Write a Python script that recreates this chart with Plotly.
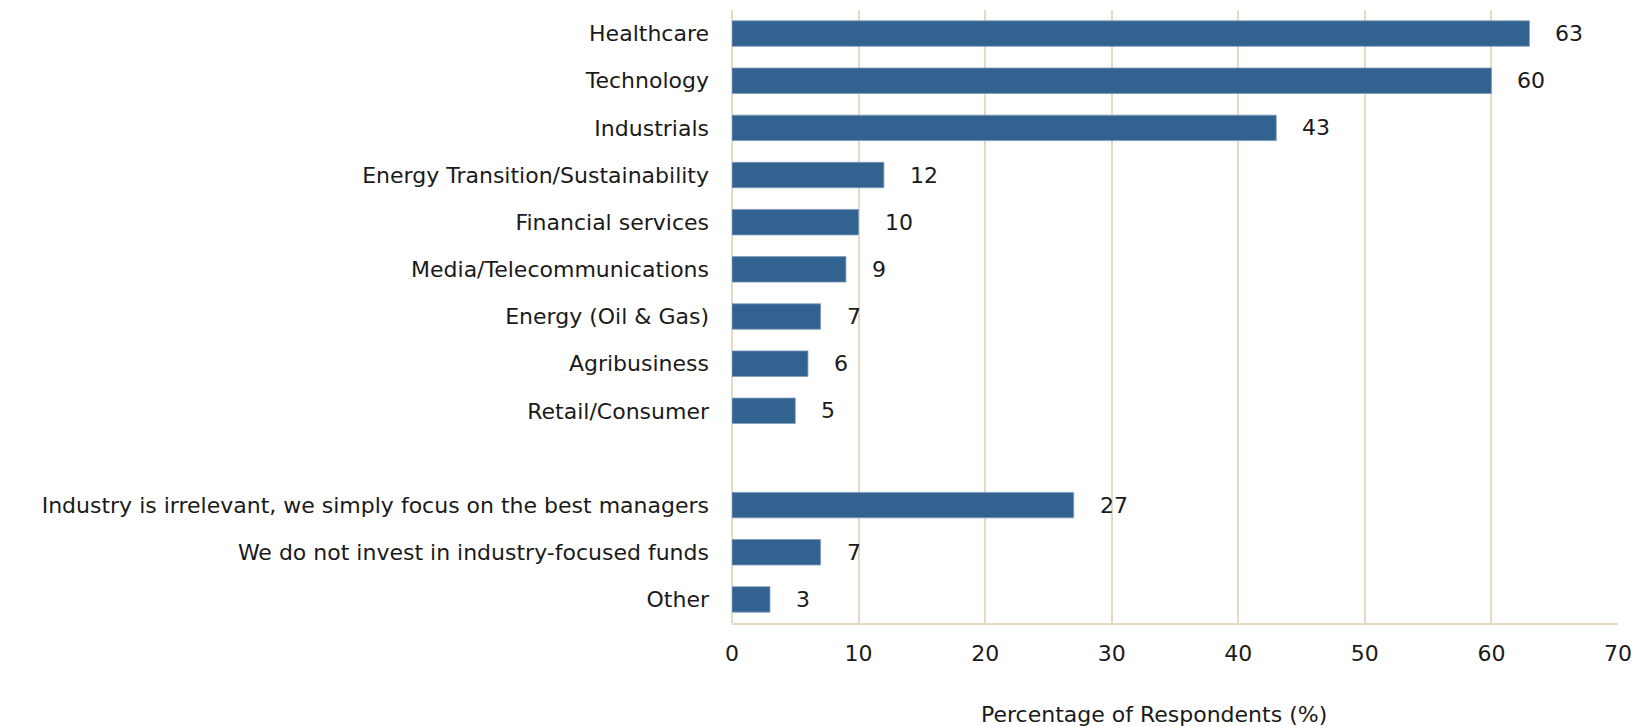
import plotly.graph_objects as go

# Survey responses: industries targeted (share of respondents, %)
categories = [
    "Healthcare",
    "Technology",
    "Industrials",
    "Energy Transition/Sustainability",
    "Financial services",
    "Media/Telecommunications",
    "Energy (Oil & Gas)",
    "Agribusiness",
    "Retail/Consumer",
    " ",
    "Industry is irrelevant, we simply focus on the best managers",
    "We do not invest in industry-focused funds",
    "Other",
]
values = [63, 60, 43, 12, 10, 9, 7, 6, 5, None, 27, 7, 3]
x_ticks = [0, 10, 20, 30, 40, 50, 60, 70]

BAR = "#32628F"
GRID = "#E6DAC6"
TEXT = "#1A1A1A"
FONT = "DejaVu Sans, Verdana, sans-serif"
FS = 22

fig = go.Figure(
    go.Bar(
        x=values,
        y=categories,
        orientation="h",
        marker=dict(color=BAR, line=dict(color="#7F9CBB", width=0.8)),
        width=0.54,
        hoverinfo="skip",
    )
)

# value labels to the right of each bar
for cat, v in zip(categories, values):
    if v is None:
        continue
    fig.add_annotation(
        x=v, y=cat, text=str(v), showarrow=False,
        xanchor="left", yanchor="middle", xshift=24,
        font=dict(size=FS, color=TEXT, family=FONT),
    )

fig.add_annotation(
    x=0.476, y=-0.149, xref="paper", yref="paper",
    text="Percentage of Respondents (%)", showarrow=False,
    xanchor="center", yanchor="middle",
    font=dict(size=FS, color=TEXT, family=FONT),
)

fig.update_layout(
    width=1649, height=726,
    margin=dict(l=732, r=31, t=10, b=103),
    paper_bgcolor="white", plot_bgcolor="white",
    showlegend=False,
    font=dict(family=FONT, size=FS, color=TEXT),
    xaxis=dict(
        range=[0, 70], tickvals=x_ticks,
        showgrid=True, gridcolor=GRID, gridwidth=2,
        zeroline=True, zerolinecolor=GRID, zerolinewidth=2,
        showline=True, linecolor=GRID, linewidth=2,
        ticks="", ticklabelstandoff=10,
        tickfont=dict(size=FS, color=TEXT),
        fixedrange=True,
    ),
    yaxis=dict(
        type="category", categoryorder="array", categoryarray=categories,
        autorange="reversed",
        showgrid=False, zeroline=False, showline=False,
        ticks="", ticklabelstandoff=22,
        tickfont=dict(size=FS, color=TEXT),
        fixedrange=True,
    ),
)

fig.write_html("out.html")
